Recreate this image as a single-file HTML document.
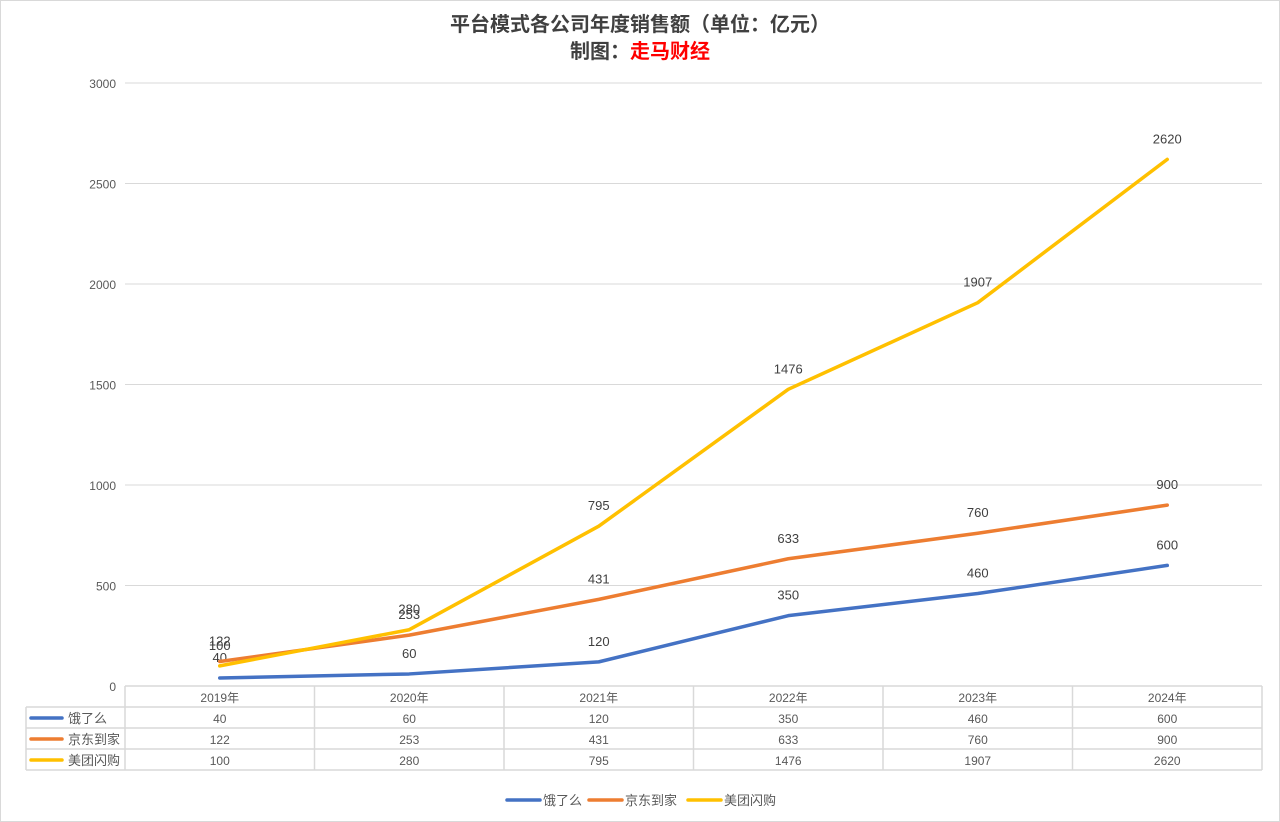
<!DOCTYPE html>
<html><head><meta charset="utf-8"><style>
html,body{margin:0;padding:0;background:#fff}
svg{display:block;font-family:"Liberation Sans","Noto Sans CJK SC",sans-serif}
</style></head><body>
<svg id="c" width="1280" height="822">
<rect x="0.5" y="0.5" width="1279" height="821" fill="#fff" stroke="#d9d9d9"/>
<text x="640" y="31" text-anchor="middle" font-size="20" font-weight="bold" fill="#404040">平台模式各公司年度销售额（单位：亿元）</text>
<text x="640" y="58" text-anchor="middle" font-size="20" font-weight="bold" fill="#404040">制图：<tspan fill="#ff0000">走马财经</tspan></text>
<g id="grid"></g><g id="lines"></g><g id="table"></g><g id="legend"></g>
</svg>
<script>
const categories=["2019年","2020年","2021年","2022年","2023年","2024年"];
const seriesNames=["饿了么","京东到家","美团闪购"];
const eleme=[40,60,120,350,460,600];
const jd=[122,253,431,633,760,900];
const meituan=[100,280,795,1476,1907,2620];
const yTicks=[0,500,1000,1500,2000,2500,3000];
const colors=["#4472c4","#ed7d31","#ffc000"];
const allSeries=[eleme,jd,meituan];
const NS="http://www.w3.org/2000/svg";
const x0=125,x1=1262,y0=686,y1=83,yMax=3000;
const cw=(x1-x0)/categories.length;
const xs=i=>x0+cw*(i+0.5);
const ys=v=>y0-(v/yMax)*(y0-y1);
function mk(tag,attrs,parent,txt){const e=document.createElementNS(NS,tag);for(const k in attrs)e.setAttribute(k,attrs[k]);if(txt!==undefined)e.textContent=txt;parent.appendChild(e);return e;}
const grid=document.getElementById('grid');
yTicks.forEach(t=>{
  if(t>0){const l=mk('line',{x1:x0,x2:x1,y1:ys(t),y2:ys(t),stroke:'#d9d9d9'},grid);
  
  }
  const tx=mk('text',{x:116,y:ys(t)+5,'text-anchor':'end','font-size':12,fill:'#595959'},grid,t);
  
  
});
const lines=document.getElementById('lines');
const labelColor=['#404040','#404040','#404040'];
allSeries.forEach((s,si)=>{
  const p=mk('polyline',{points:s.map((v,i)=>xs(i)+','+ys(v)).join(' '),fill:'none',stroke:colors[si],'stroke-width':3.5,'stroke-linejoin':'round','stroke-linecap':'round'},lines);
  
  
  s.forEach((v,i)=>{
    const t=mk('text',{x:xs(i),y:ys(v)-16,'text-anchor':'middle','font-size':13,fill:labelColor[si]},lines,v);
    
    
  });
});
const tb=document.getElementById('table');
const rowH=21,tl=26;
// header
mk('line',{x1:x0,x2:x1,y1:y0,y2:y0,stroke:'#d9d9d9','stroke-width':1.5},tb);
for(let r=0;r<=3;r++){const y=y0+rowH*(r+1);mk('line',{x1:tl,x2:x1,y1:y,y2:y,stroke:'#d9d9d9','stroke-width':1.5},tb);}
for(let i=0;i<=categories.length;i++){const x=x0+cw*i;mk('line',{x1:x,x2:x,y1:y0,y2:y0+rowH*4,stroke:'#d9d9d9','stroke-width':1.5},tb);}
mk('line',{x1:tl,x2:tl,y1:y0+rowH,y2:y0+rowH*4,stroke:'#d9d9d9','stroke-width':1.5},tb);
categories.forEach((c,i)=>{
  const t=mk('text',{x:xs(i),y:y0+16,'text-anchor':'middle','font-size':12,fill:'#595959'},tb,c);
  
  
});
allSeries.forEach((s,si)=>{
  const ry=y0+rowH*(si+1);
  mk('line',{x1:31,x2:62,y1:ry+11,y2:ry+11,stroke:colors[si],'stroke-width':3.5,'stroke-linecap':'round'},tb);
  const n=mk('text',{x:68,y:ry+16,'font-size':13,fill:'#595959'},tb,seriesNames[si]);
  
  
  s.forEach((v,i)=>{
    const t=mk('text',{x:xs(i),y:ry+16,'text-anchor':'middle','font-size':12,fill:'#595959'},tb,v);
    
    
  });
});
const lg=document.getElementById('legend');
const lx=[507,589,688];
seriesNames.forEach((n,i)=>{
  const g=mk('g',{},lg);
  
  
  mk('line',{x1:lx[i],x2:lx[i]+33,y1:800,y2:800,stroke:colors[i],'stroke-width':3.5,'stroke-linecap':'round'},g);
  mk('text',{x:lx[i]+36,y:805,'font-size':13,fill:'#595959'},g,n);
});
</script>
</body></html>
